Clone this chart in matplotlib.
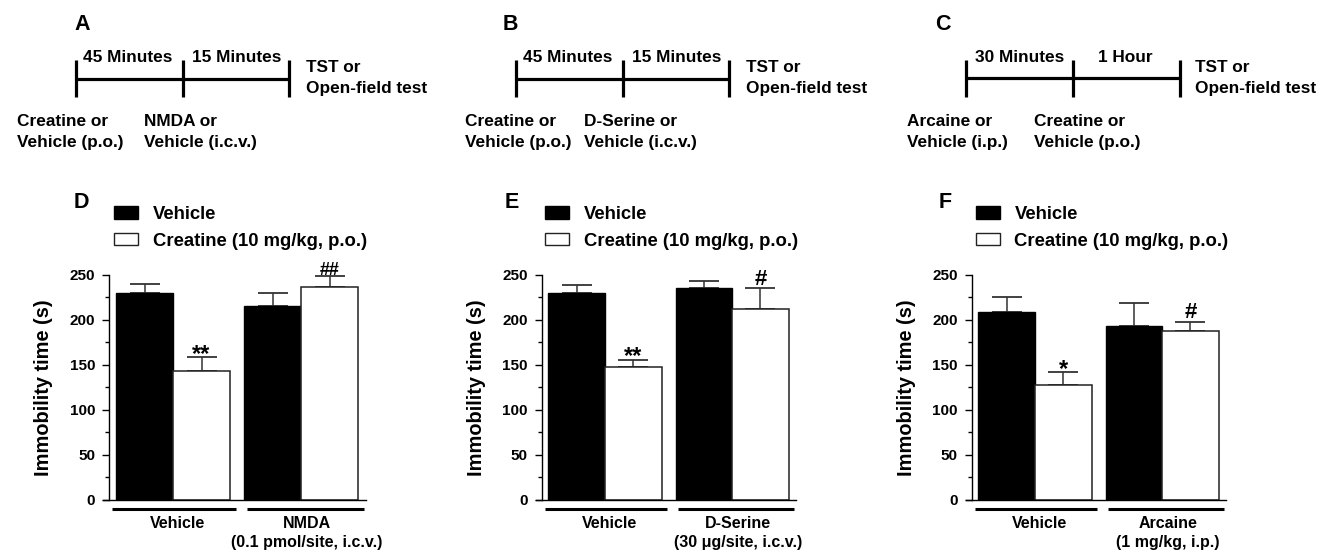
import matplotlib
matplotlib.use('Agg')
import matplotlib.pyplot as plt
from matplotlib.patches import Patch

plt.rcParams['font.family'] = ['Liberation Sans', 'DejaVu Sans']
plt.rcParams['font.weight'] = 'bold'
plt.rcParams['axes.labelweight'] = 'bold'

W, H = 1317, 553

# ---------------- data ----------------
series_names = ['Vehicle', 'Creatine (10 mg/kg, p.o.)']
panel_letters = ['D', 'E', 'F']
group_labels = [
    ['Vehicle', 'NMDA\n(0.1 pmol/site, i.c.v.)'],
    ['Vehicle', 'D-Serine\n(30 μg/site, i.c.v.)'],
    ['Vehicle', 'Arcaine\n(1 mg/kg, i.p.)'],
]
vehicle_means = [[230.0, 215.0], [229.6, 235.6], [208.9, 193.3]]
vehicle_sem = [[10.0, 15.0], [9.7, 8.1], [16.7, 25.6]]
creatine_means = [[143.2, 236.6], [147.8, 212.2], [127.8, 187.8]]
creatine_sem = [[15.2, 12.0], [7.8, 23.4], [13.7, 10.3]]
creatine_marks = [['**', '##'], ['**', '#'], ['*', '#']]
yticks = [0, 50, 100, 150, 200, 250]
ylabel = 'Immobility time (s)'

# timeline panels A-C
timeline_letters = ['A', 'B', 'C']
timeline_intervals = [['45 Minutes', '15 Minutes'],
                      ['45 Minutes', '15 Minutes'],
                      ['30 Minutes', '1 Hour']]
timeline_first = [['Creatine or', 'Vehicle (p.o.)'],
                  ['Creatine or', 'Vehicle (p.o.)'],
                  ['Arcaine or', 'Vehicle (i.p.)']]
timeline_second = [['NMDA or', 'Vehicle (i.c.v.)'],
                   ['D-Serine or', 'Vehicle (i.c.v.)'],
                   ['Creatine or', 'Vehicle (p.o.)']]
timeline_end = ['TST or', 'Open-field test']

fig = plt.figure(figsize=(W / 100, H / 100), dpi=100)

# ---------------- timeline overlay ----------------
ov = fig.add_axes([0, 0, 1, 1])
ov.set_xlim(0, W)
ov.set_ylim(H, 0)
ov.axis('off')

tl_x0 = [76, 516, 966]
tl_len = [213, 213, 214]
tl_y = [79, 79, 78]
letter_x = [74, 503, 935]
int_x = [[83, 192], [523, 632], [975, 1098]]
first_x = [17, 465, 907]
second_x = [144, 584, 1034]
end_x = [306, 746, 1195]
fs_tl = 12.4
for i in range(3):
    x0 = tl_x0[i]
    xm = x0 + tl_len[i] / 2
    x1 = x0 + tl_len[i]
    y = tl_y[i]
    ov.plot([x0, x1], [y, y], color='black', lw=2.3, solid_capstyle='butt')
    for xx in (x0, xm, x1):
        ov.plot([xx, xx], [60, 97], color='black', lw=2.3, solid_capstyle='butt')
    ov.text(letter_x[i], 25, timeline_letters[i], fontsize=15.5, fontweight='bold', ha='left', va='center')
    for j in range(2):
        ov.text(int_x[i][j], 57, timeline_intervals[i][j], fontsize=fs_tl, ha='left', va='center')
    ov.text(end_x[i], 68, timeline_end[0], fontsize=fs_tl, ha='left', va='center')
    ov.text(end_x[i], 89, timeline_end[1], fontsize=fs_tl, ha='left', va='center')
    ov.text(first_x[i], 122, timeline_first[i][0], fontsize=fs_tl, ha='left', va='center')
    ov.text(first_x[i], 143, timeline_first[i][1], fontsize=fs_tl, ha='left', va='center')
    ov.text(second_x[i], 122, timeline_second[i][0], fontsize=fs_tl, ha='left', va='center')
    ov.text(second_x[i], 143, timeline_second[i][1], fontsize=fs_tl, ha='left', va='center')

# ---------------- bar panels ----------------
ax_left = [102.9, 535.5, 965.5]
ax_width = [262.8, 260.5, 260.5]
y_bottom_px, y_top_px = 499.7, 274.9
ylabel_x = [44, 476.7, 906]
legend_x = [114, 545, 975.7]
letter2_x = [74, 505, 939]
xlim = (-0.73, 3.88)
centers_v = [0, 2.25]
centers_c = [1, 3.25]
bar_w = 1.0
fs_leg = 13.3

for p in range(3):
    ax = fig.add_axes([ax_left[p] / W, 1 - y_bottom_px / H, ax_width[p] / W,
                       (y_bottom_px - y_top_px) / H])
    ax.set_xlim(*xlim)
    ax.set_ylim(0, 250)
    ax.bar(centers_v, vehicle_means[p], width=bar_w, color='black',
           edgecolor='black', linewidth=1, label=series_names[0], zorder=2)
    ax.bar(centers_c, creatine_means[p], width=bar_w, color='white',
           edgecolor='#222222', linewidth=1.1, label=series_names[1], zorder=2)
    ax.errorbar(centers_v, vehicle_means[p], yerr=[[0, 0], vehicle_sem[p]], fmt='none',
                ecolor='#333333', elinewidth=1.1, capsize=10.5, capthick=1.3, zorder=1)
    ax.errorbar(centers_c, creatine_means[p], yerr=[[0, 0], creatine_sem[p]], fmt='none',
                ecolor='#333333', elinewidth=1.1, capsize=10.5, capthick=1.3, zorder=1)
    for k in range(2):
        mark = creatine_marks[p][k]
        top = creatine_means[p][k] + creatine_sem[p][k]
        if '*' in mark:
            ax.annotate(mark, (centers_c[k], top), xytext=(0, -2.6), textcoords='offset points',
                        ha='center', va='baseline', fontsize=17, fontweight='bold')
        else:
            fsz = 13 if len(mark) > 1 else 16
            off = 0.8 if len(mark) > 1 else 2.4
            ax.annotate(mark, (centers_c[k], top), xytext=(0, off), textcoords='offset points',
                        ha='center', va='baseline', fontsize=fsz, fontweight='bold')

    # spines
    ax.spines['top'].set_visible(False)
    ax.spines['right'].set_visible(False)
    ax.spines['left'].set_position(('data', -0.62))
    ax.spines['left'].set_bounds(0, 250)
    ax.spines['left'].set_linewidth(1.0)
    ax.spines['bottom'].set_linewidth(1.0)
    ax.set_xticks([])
    ax.set_yticks(yticks)
    ax.set_yticks([25, 75, 125, 175, 225], minor=True)
    ax.tick_params(axis='y', which='major', length=5, width=1, labelsize=11, pad=5)
    ax.tick_params(axis='y', which='minor', length=3, width=1)
    for lab in ax.get_yticklabels():
        lab.set_fontweight('bold')
    ax.set_ylabel(ylabel, fontsize=14.4, fontweight='bold', va='center')
    ax.yaxis.set_label_coords((ylabel_x[p] - ax_left[p]) / ax_width[p], 0.5)

    # group underlines and labels
    spans = [(centers_v[0] - 0.57, centers_c[0] + 0.6), (centers_v[1] - 0.46, centers_c[1] + 0.6)]
    for g in range(2):
        ax.plot(spans[g], [-10.5, -10.5], color='black', lw=2.2, clip_on=False,
                solid_capstyle='butt')
        lines = group_labels[p][g].split('\n')
        gx = [0.58, 2.85][g]
        ax.text(gx, -26, lines[0], ha='center', va='center', fontsize=11.5,
                fontweight='bold', clip_on=False)
        if len(lines) > 1:
            ax.text(gx, -47.5, lines[1], ha='center', va='center', fontsize=11.5,
                    fontweight='bold', clip_on=False)

    # panel letter
    fig.text(letter2_x[p] / W, 1 - 203 / H, panel_letters[p], fontsize=15.5,
             fontweight='bold', ha='left', va='center')

    # legend
    handles = [Patch(facecolor='black', edgecolor='black', linewidth=1),
               Patch(facecolor='white', edgecolor='#222222', linewidth=1)]
    fig.legend(handles, series_names, loc='upper left',
               bbox_to_anchor=(legend_x[p] / W, 1 - 206 / H),
               bbox_transform=fig.transFigure, frameon=False, borderpad=0,
               borderaxespad=0, handlelength=1.3, handleheight=0.65,
               handletextpad=0.8, labelspacing=0.52,
               prop={'size': fs_leg, 'weight': 'bold'})

fig.savefig('out.png', dpi=100)
